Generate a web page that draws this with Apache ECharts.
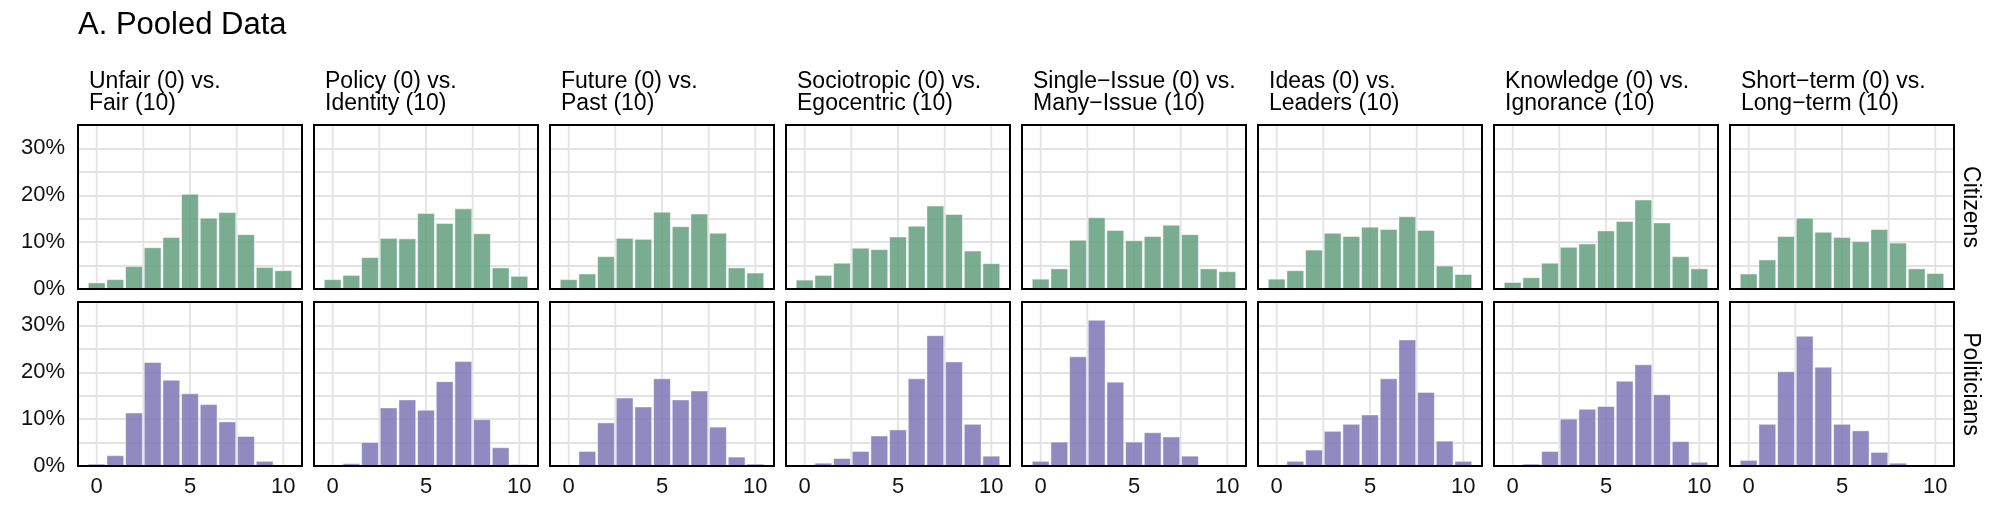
<!DOCTYPE html>
<html>
<head>
<meta charset="utf-8">
<script src="https://cdn.jsdelivr.net/npm/echarts@6/dist/echarts.min.js"></script>
<style>
html,body{margin:0;padding:0;background:#fff;}
#chart{width:2000px;height:523px;}
</style>
</head>
<body>
<div id="chart"></div>
<script>
// ---------- DATA ----------
const chartTitle = 'A. Pooled Data';
const scores = [0, 1, 2, 3, 4, 5, 6, 7, 8, 9, 10];
const xTickLabels = [0, 5, 10];
const xGridValues = [0, 2.5, 5, 7.5, 10];
const yTickLabels = [0, 10, 20, 30];
const rowLabels = ['Citizens', 'Politicians'];
const panelTitles = [
  'Unfair (0) vs.\nFair (10)',
  'Policy (0) vs.\nIdentity (10)',
  'Future (0) vs.\nPast (10)',
  'Sociotropic (0) vs.\nEgocentric (10)',
  'Single\u2212Issue (0) vs.\nMany\u2212Issue (10)',
  'Ideas (0) vs.\nLeaders (10)',
  'Knowledge (0) vs.\nIgnorance (10)',
  'Short\u2212term (0) vs.\nLong\u2212term (10)'
];

// Citizens (% of respondents at each score 0..10)
const citFair        = [1.3, 2.0, 4.8, 8.8, 11.0, 20.2, 15.1, 16.3, 11.6, 4.6, 3.9];
const citIdentity    = [2.0, 2.9, 6.7, 10.8, 10.7, 16.1, 14.0, 17.1, 11.8, 4.5, 2.7];
const citPast        = [2.0, 3.2, 6.9, 10.8, 10.6, 16.4, 13.3, 16.0, 11.9, 4.5, 3.4];
const citEgocentric  = [1.9, 2.9, 5.5, 8.7, 8.4, 11.1, 13.4, 17.7, 15.9, 8.1, 5.4];
const citManyIssue   = [2.1, 4.3, 10.4, 15.2, 12.5, 10.3, 11.2, 13.6, 11.6, 4.3, 3.7];
const citLeaders     = [2.1, 3.9, 8.3, 11.9, 11.2, 13.2, 12.7, 15.4, 12.5, 4.9, 3.1];
const citIgnorance   = [1.4, 2.4, 5.5, 8.9, 9.6, 12.4, 14.4, 19.0, 14.1, 6.9, 4.3];
const citLongTerm    = [3.2, 6.2, 11.2, 15.1, 12.1, 11.0, 10.1, 12.7, 9.8, 4.3, 3.3];

// Politicians
const polFair        = [0.4, 2.2, 11.3, 22.1, 18.3, 15.4, 13.1, 9.4, 6.3, 1.0, 0.1];
const polIdentity    = [0.05, 0.5, 5.0, 12.4, 14.1, 11.9, 18.0, 22.3, 9.9, 3.9, 0.3];
const polPast        = [0.05, 3.1, 9.2, 14.5, 12.6, 18.6, 14.1, 16.0, 8.3, 1.9, 0.4];
const polEgocentric  = [0.05, 0.6, 1.6, 3.1, 6.4, 7.7, 18.6, 27.8, 22.2, 8.9, 2.1];
const polManyIssue   = [1.0, 5.1, 23.3, 31.1, 17.9, 5.1, 7.1, 6.2, 2.1, 0.1, 0.05];
const polLeaders     = [0.05, 1.0, 3.4, 7.4, 8.9, 10.9, 18.6, 26.9, 15.7, 5.3, 1.0];
const polIgnorance   = [0.05, 0.4, 3.1, 10.0, 12.1, 12.7, 18.1, 21.6, 15.2, 5.2, 0.8];
const polLongTerm    = [1.2, 8.9, 20.1, 27.7, 21.1, 8.9, 7.5, 2.9, 0.6, 0.05, 0.05];

const citizens = [citFair, citIdentity, citPast, citEgocentric, citManyIssue, citLeaders, citIgnorance, citLongTerm];
const politicians = [polFair, polIdentity, polPast, polEgocentric, polManyIssue, polLeaders, polIgnorance, polLongTerm];
const rows = [citizens, politicians];

// ---------- STYLE / LAYOUT ----------
const FONT = '"Liberation Sans", Arial, Helvetica, sans-serif';
const rowColors = ['#629e7c', '#7c76b5'];
const panelLeft0 = 78, panelPitch = 236, panelW = 224;
const rowTops = [125, 302], panelH = 164;
const gridColor = '#e3e3e3';

const grids = [], xAxes = [], yAxes = [], series = [], graphics = [];

rows.forEach((rowData, r) => {
  rowData.forEach((vals, c) => {
    const idx = r * 8 + c;
    grids.push({
      left: panelLeft0 + c * panelPitch, top: rowTops[r], width: panelW, height: panelH,
      show: true, borderColor: '#000', borderWidth: 2, backgroundColor: 'transparent', z: 5
    });
    xAxes.push({
      type: 'value', gridIndex: idx, min: -1, max: 11,
      axisLine: { show: false },
      axisTick: { show: false },
      axisLabel: {
        show: r === 1, customValues: xTickLabels, margin: 10,
        fontFamily: FONT, fontSize: 22, color: '#111'
      },
      splitLine: { show: false }
    });
    yAxes.push({
      type: 'value', gridIndex: idx, min: 0, max: 35, interval: 5,
      axisLine: { show: false }, axisTick: { show: false },
      axisLabel: {
        show: c === 0, margin: 13, fontFamily: FONT, fontSize: 22, color: '#111',
        formatter: v => (yTickLabels.indexOf(v) >= 0 ? v + '%' : '')
      },
      splitLine: { show: true, lineStyle: { color: gridColor, width: 1.8 } }
    });
    // vertical grid lines (behind bars)
    series.push({
      type: 'custom', xAxisIndex: idx, yAxisIndex: idx, z: 1, silent: true,
      data: xGridValues.map(v => [v]),
      encode: { x: 0 },
      renderItem: (params, api) => {
        const x = api.value(0);
        const pb = api.coord([x, 0]);
        const pt = api.coord([x, 35]);
        return {
          type: 'line',
          shape: { x1: pb[0], y1: pb[1], x2: pt[0], y2: pt[1] },
          style: { stroke: gridColor, lineWidth: 1.8 }
        };
      }
    });
    const color = rowColors[r];
    series.push({
      type: 'custom', xAxisIndex: idx, yAxisIndex: idx, z: 2,
      data: scores.map((s, i) => [s, vals[i]]),
      encode: { x: 0, y: 1 },
      renderItem: (params, api) => {
        const x = api.value(0), y = api.value(1);
        const p0 = api.coord([x - 0.45, 0]);
        const p1 = api.coord([x + 0.45, y]);
        return {
          type: 'rect',
          shape: { x: p0[0], y: p1[1], width: p1[0] - p0[0], height: p0[1] - p1[1] },
          style: { fill: color, opacity: 0.85, stroke: 'rgba(255,255,255,0.55)', lineWidth: 1 }
        };
      }
    });
  });
});

// strip labels (top)
panelTitles.forEach((t, c) => {
  graphics.push({
    type: 'text', left: panelLeft0 + c * panelPitch + 11, top: 70,
    style: { text: t, fontFamily: FONT, fontSize: 23, lineHeight: 22, fill: '#000', align: 'left', verticalAlign: 'top' }
  });
});
// strip labels (right)
rowLabels.forEach((t, r) => {
  graphics.push({
    type: 'text', x: 1970, y: rowTops[r] + panelH / 2, rotation: -Math.PI / 2,
    style: { text: t, fontFamily: FONT, fontSize: 23, fill: '#000', align: 'center', verticalAlign: 'middle' }
  });
});
// title
graphics.push({
  type: 'text', left: 78, top: 10,
  style: { text: chartTitle, fontFamily: FONT, fontSize: 31, lineHeight: 31, fill: '#000', verticalAlign: 'top' }
});

const chart = echarts.init(document.getElementById('chart'), null, { renderer: 'canvas' });
chart.setOption({
  animation: false,
  backgroundColor: '#fff',
  grid: grids, xAxis: xAxes, yAxis: yAxes, series: series,
  graphic: graphics
});
</script>
</body>
</html>
